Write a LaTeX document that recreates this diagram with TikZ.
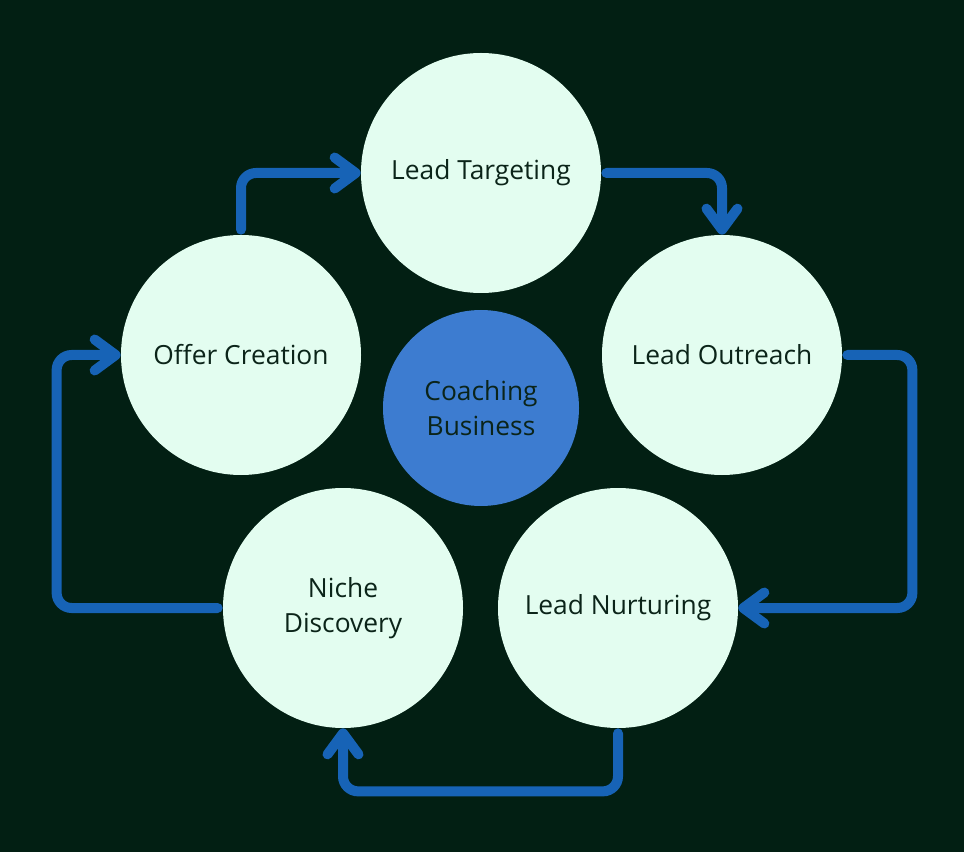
\documentclass[tikz,border=0pt]{standalone}
\usepackage{fontspec}
\setmainfont{Open Sans}
\usetikzlibrary{arrows.meta, positioning}
\definecolor{bgdark}{HTML}{021F13}
\definecolor{mint}{HTML}{E3FDF0}
\definecolor{flowblue}{HTML}{1763B6}
\definecolor{hubblue}{HTML}{3D7CD0}
\definecolor{inktext}{HTML}{0B2419}

\begin{document}
\begin{tikzpicture}[
    stage/.style={circle, fill=mint, minimum size=4.8cm, inner sep=0pt, align=center, text=inktext, font=\fontsize{15}{20}\selectfont},
    hub/.style={circle, fill=hubblue, minimum size=3.92cm, inner sep=0pt, align=center, text=inktext, font=\fontsize{15}{20}\selectfont},
    flow/.style={-{Straight Barb[length=0.42cm, width=0.62cm, round]}, line width=0.2cm, draw=flowblue, line cap=round, rounded corners=0.3cm}
]
\fill[bgdark] (0,0) rectangle (19.28,-17.04);
\useasboundingbox (0,0) rectangle (19.28,-17.04);

\node[stage] (target) at (9.62,-3.46) {Lead Targeting};
\node[stage] (outreach) at (14.44,-7.10) {Lead Outreach};
\node[stage] (offer) at (4.82,-7.10) {Offer Creation};
\node[stage] (nurture) at (12.36,-12.16) {Lead Nurturing};
\node[stage] (niche) at (6.86,-12.16) {Niche\\Discovery};

\node[hub] (coach) at (9.62,-8.16) {Coaching\\Business};

\draw[flow] ([yshift=0.1cm]offer.north) |- (target.west);
\draw[flow] ([xshift=0.1cm]target.east) -| (outreach.north);
\draw[flow] ([xshift=0.1cm]outreach.east) -- ++(1.3,0) |- (nurture.east);
\draw[flow] ([yshift=-0.1cm]nurture.south) -- ++(0,-1.16) -| (niche.south);
\draw[flow] ([xshift=-0.1cm]niche.west) -- ++(-3.22,0) |- (offer.west);
\end{tikzpicture}
\end{document}
